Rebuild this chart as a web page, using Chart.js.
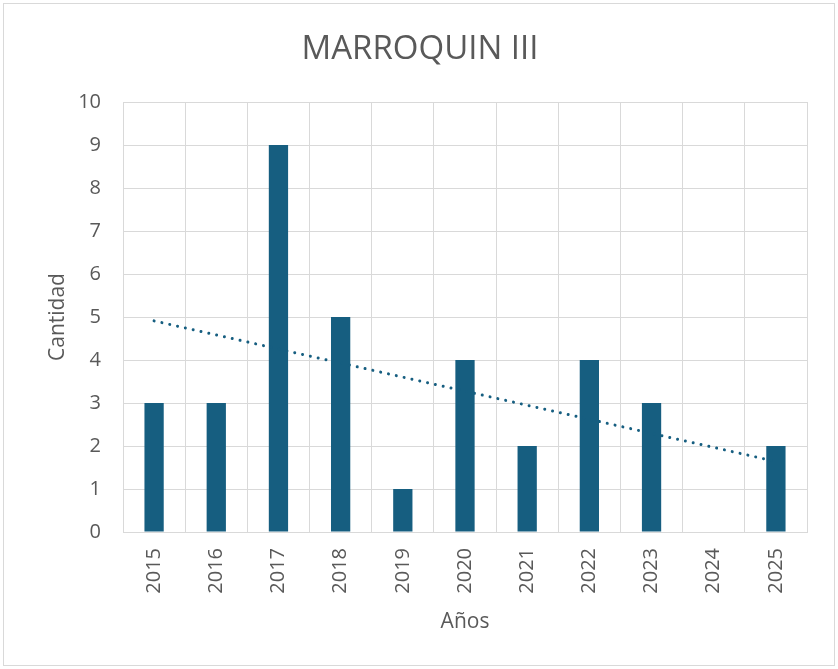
<!DOCTYPE html>
<html>
<head>
<meta charset="utf-8">
<script src="https://cdn.jsdelivr.net/npm/chart.js@4/dist/chart.umd.min.js"></script>
<style>
  html, body { margin: 0; padding: 0; background: #fff; }
  #wrap { width: 838px; height: 669px; position: relative; }
</style>
</head>
<body>
<div id="wrap"><canvas id="chart" width="838" height="669"></canvas></div>
<script>
const years = ['2015', '2016', '2017', '2018', '2019', '2020', '2021', '2022', '2023', '2024', '2025'];
const counts = [3, 3, 9, 5, 1, 4, 2, 4, 3, 0, 2];
// trend line ends
const trendYears = ['2015', '2025'];
const trendValues = [4.91, 1.64];
const yTicks = [0, 1, 2, 3, 4, 5, 6, 7, 8, 9, 10];

const barColor = '#165e80';
const gridColor = '#d9d9d9';
const textColor = '#595959';
const fontFamily = '"Open Sans", "Noto Sans", sans-serif';

const framePlugin = {
  id: 'frame',
  beforeDraw(chart) {
    const ctx = chart.ctx;
    ctx.save();
    ctx.fillStyle = '#fff';
    ctx.fillRect(0, 0, chart.width, chart.height);
    ctx.strokeStyle = gridColor;
    ctx.lineWidth = 1;
    ctx.strokeRect(3.5, 3.5, 831, 662);
    ctx.restore();
  }
};

const ctx = document.getElementById('chart').getContext('2d');
new Chart(ctx, {
  type: 'bar',
  data: {
    labels: years,
    datasets: [
      {
        type: 'line',
        data: trendYears.map((y, i) => ({ x: y, y: trendValues[i] })),
        borderColor: barColor,
        borderWidth: 3,
        borderDash: [0.01, 8],
        borderCapStyle: 'round',
        pointRadius: 0,
        fill: false,
        order: 0
      },
      {
        data: counts,
        backgroundColor: barColor,
        barPercentage: 1,
        categoryPercentage: 0.31,
        order: 1
      }
    ]
  },
  options: {
    responsive: false,
    animation: false,
    layout: { padding: { top: 30, right: 31, bottom: 0, left: 33 } },
    plugins: {
      legend: { display: false },
      tooltip: { enabled: false },
      title: {
        display: true,
        text: 'MARROQUIN III',
        color: textColor,
        font: { family: fontFamily, size: 33, weight: 'normal' },
        padding: { top: 0, bottom: 32.4 }
      }
    },
    scales: {
      x: {
        grid: { color: gridColor, drawTicks: false, offset: true },
        border: { color: gridColor },
        ticks: {
          color: textColor,
          font: { family: fontFamily, size: 20 },
          minRotation: 90,
          maxRotation: 90,
          padding: 16
        },
        title: {
          display: true,
          text: 'Años',
          color: textColor,
          font: { family: fontFamily, size: 21 },
          padding: { top: 0, bottom: 34 }
        },
        afterFit: s => { s.height = 137; }
      },
      y: {
        min: 0,
        max: 10,
        afterBuildTicks: s => { s.ticks = yTicks.map(v => ({ value: v })); },
        grid: { color: gridColor, drawTicks: false },
        border: { display: false },
        ticks: {
          color: textColor,
          font: { family: fontFamily, size: 20 },
          padding: 22
        },
        title: {
          display: true,
          text: 'Cantidad',
          color: textColor,
          font: { family: fontFamily, size: 21 },
          padding: { top: 12.4, bottom: 0 }
        },
        afterFit: s => { s.width = 90; }
      }
    }
  },
  plugins: [framePlugin]
});
</script>
</body>
</html>
